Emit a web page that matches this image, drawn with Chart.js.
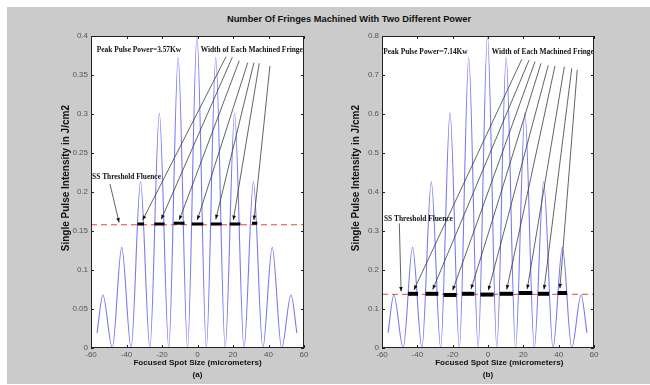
<!DOCTYPE html>
<html>
<head>
<meta charset="utf-8">
<script src="https://cdn.jsdelivr.net/npm/chart.js@4.4.0/dist/chart.umd.min.js"></script>
<style>
  body { margin: 0; width: 650px; height: 385px; overflow: hidden; position: relative; background: #fff; }
  #fig { position: absolute; left: 7px; top: 7px; right: 0; bottom: 1px; background: #cbcbcb; }
  #title { position: absolute; left: 100px; width: 498px; top: 14px; line-height: 12px; text-align: center;
           font: bold 9.3px "Liberation Sans", Arial, sans-serif; color: #111; }
  canvas { position: absolute; top: 0; }
</style>
</head>
<body>
<div id="fig"></div>
<div id="title">Number Of Fringes Machined With Two Different Power</div>
<canvas id="chartA" width="325" height="385" style="left:0"></canvas>
<canvas id="chartB" width="325" height="385" style="left:325px"></canvas>
<script>
// values
const spotSize = [-56.6, -53.3, -48.0, -42.7, -37.4, -32.1, -26.8, -21.5, -16.2, -10.9, -5.6, -0.3,
                  5.0, 10.3, 15.6, 20.9, 26.2, 31.5, 36.8, 42.1, 47.4, 52.7, 56.0];
const intensityA = [0.019, 0.068, 0, 0.129, 0, 0.213, 0, 0.301, 0, 0.372, 0, 0.400,
                    0, 0.372, 0, 0.301, 0, 0.213, 0, 0.129, 0, 0.068, 0.019];
const intensityB = [0.039, 0.136, 0, 0.258, 0, 0.426, 0, 0.603, 0, 0.745, 0, 0.800,
                    0, 0.745, 0, 0.603, 0, 0.426, 0, 0.258, 0, 0.136, 0.039];

const thresholdA = 0.158;
const thresholdB = 0.1377;

const fringeBarsA = [[-33.8, -30.1], [-24.3, -18.6], [-13.4, -7.3], [-3.2, 3.3], [7.5, 13.6], [18.1, 24.2], [30.7, 33.7]];
const barLevelsA = [0.159, 0.159, 0.160, 0.159, 0.159, 0.159, 0.160];
const fringeBarsB = [[-45.3, -39.6], [-35.3, -28.1], [-25.1, -17.9], [-14.7, -7.7], [-4.3, 3.2],
                     [6.6, 14.2], [17.4, 25.1], [28.3, 34.6], [39.4, 44.7]];
const barLevelsB = [0.139, 0.139, 0.136, 0.139, 0.137, 0.139, 0.141, 0.139, 0.141];

const arrowTailsA = [[16.1, 0.3735], [19.6, 0.3727], [23.5, 0.3683], [28.3, 0.3658], [31.8, 0.3658],
                     [34.8, 0.365], [40.8, 0.3615], [-49.3, 0.2103]];
const arrowTipsA = [[-30.9, 0.164], [-20.4, 0.165], [-10.3, 0.164], [-0.1, 0.164], [10.3, 0.165],
                    [20.2, 0.164], [31.8, 0.164], [-44.2, 0.161]];
const arrowTailsB = [[19.1, 0.740], [23.2, 0.738], [26.6, 0.734], [30.0, 0.730], [34.1, 0.725],
                     [37.9, 0.723], [43.2, 0.721], [47.4, 0.717], [50.5, 0.713], [-50.2, 0.3197]];
const arrowTipsB = [[-41.9, 0.149], [-31.3, 0.150], [-20.0, 0.148], [-9.6, 0.151], [0.2, 0.148],
                    [10.6, 0.150], [22.2, 0.151], [31.7, 0.150], [40.7, 0.153], [-49.2, 0.145]];

const notesA = [
  { text: "Peak Pulse Power=3.57Kw", x: -56.8, y: 0.382 },
  { text: "Width of Each Machined Fringe", x: 1.8, y: 0.382 },
  { text: "SS Threshold Fluence", x: -59.4, y: 0.2196 }
];
const notesB = [
  { text: "Peak Pulse Power=7.14Kw", x: -59.3, y: 0.760 },
  { text: "Width of Each Machined Fringe", x: 2.1, y: 0.760 },
  { text: "SS Threshold Fluence", x: -58.9, y: 0.330 }
];

const xTickValues = [-60, -40, -20, 0, 20, 40, 60];
const yTickValuesA = [0, 0.05, 0.1, 0.15, 0.2, 0.25, 0.3, 0.35, 0.4];
const yTickValuesB = [0, 0.1, 0.2, 0.3, 0.4, 0.5, 0.6, 0.7, 0.8];

const SANS = '"Liberation Sans", Arial, sans-serif';
const SERIF = '"Liberation Serif", "Times New Roman", serif';

function pts(xs, ys) {
  return xs.map((x, i) => ({ x: x, y: ys[i] }));
}

function decor(notes, tails, tips) {
  return {
    id: "decor",
    beforeDraw(chart) {
      const { ctx, chartArea: a } = chart;
      ctx.save();
      ctx.fillStyle = "#fff";
      ctx.fillRect(a.left, a.top, a.right - a.left, a.bottom - a.top);
      ctx.restore();
    },
    afterDatasetsDraw(chart) {
      const { ctx, chartArea: a } = chart;
      const sx = chart.scales.x, sy = chart.scales.y;
      ctx.save();
      // arrow heads
      ctx.fillStyle = "#111";
      tips.forEach((t, i) => {
        const x0 = sx.getPixelForValue(tails[i][0]), y0 = sy.getPixelForValue(tails[i][1]);
        const x1 = sx.getPixelForValue(t[0]), y1 = sy.getPixelForValue(t[1]);
        const ang = Math.atan2(y1 - y0, x1 - x0);
        const c = Math.cos(ang), s = Math.sin(ang);
        ctx.beginPath();
        ctx.moveTo(x1, y1);
        ctx.lineTo(x1 - 4.5 * c + 1.8 * s, y1 - 4.5 * s - 1.8 * c);
        ctx.lineTo(x1 - 4.5 * c - 1.8 * s, y1 - 4.5 * s + 1.8 * c);
        ctx.closePath();
        ctx.fill();
      });
      // box and inward ticks
      ctx.strokeStyle = "#222";
      ctx.lineWidth = 1;
      ctx.strokeRect(a.left + 0.5, a.top + 0.5, a.right - a.left - 1, a.bottom - a.top - 1);
      ctx.beginPath();
      sx.ticks.forEach(t => {
        const p = Math.round(sx.getPixelForValue(t.value)) + 0.5;
        ctx.moveTo(p, a.bottom); ctx.lineTo(p, a.bottom - 3);
        ctx.moveTo(p, a.top); ctx.lineTo(p, a.top + 3);
      });
      sy.ticks.forEach(t => {
        const p = Math.round(sy.getPixelForValue(t.value)) + 0.5;
        ctx.moveTo(a.left, p); ctx.lineTo(a.left + 3, p);
        ctx.moveTo(a.right, p); ctx.lineTo(a.right - 3, p);
      });
      ctx.stroke();
      // annotations
      ctx.fillStyle = "#111";
      ctx.font = "bold 7.4px " + SERIF;
      ctx.textAlign = "left";
      ctx.textBaseline = "middle";
      notes.forEach(n => ctx.fillText(n.text, sx.getPixelForValue(n.x), sy.getPixelForValue(n.y)));
      ctx.restore();
    }
  };
}

function buildChart(id, cfg) {
  const datasets = [];
  datasets.push({
    data: pts(spotSize, cfg.values), borderColor: "#7a7af0", borderWidth: 1.1,
    cubicInterpolationMode: "monotone", order: 4
  });
  datasets.push({
    data: [{ x: -60, y: cfg.threshold }, { x: 60, y: cfg.threshold }],
    borderColor: "#e4473f", borderWidth: 1, borderDash: [6, 4], order: 3
  });
  cfg.bars.forEach((b, i) => datasets.push({
    data: [{ x: b[0], y: cfg.levels[i] }, { x: b[1], y: cfg.levels[i] }],
    borderColor: "#000", borderWidth: cfg.barWidth, borderCapStyle: "butt", order: 2
  }));
  cfg.tails.forEach((t, i) => datasets.push({
    data: [{ x: t[0], y: t[1] }, { x: cfg.tips[i][0], y: cfg.tips[i][1] }],
    borderColor: "#3c3c3c", borderWidth: 0.8, order: 1
  }));
  datasets.forEach(d => { d.showLine = true; d.pointRadius = 0; });

  return new Chart(document.getElementById(id), {
    type: "scatter",
    data: { datasets: datasets },
    options: {
      responsive: false,
      animation: false,
      events: [],
      layout: { padding: { left: cfg.padLeft, top: 36, right: cfg.padRight, bottom: 0 } },
      plugins: { legend: { display: false }, tooltip: { enabled: false } },
      scales: {
        x: {
          type: "linear", min: -60, max: 60,
          afterBuildTicks: s => { s.ticks = xTickValues.map(v => ({ value: v })); },
          afterFit: s => { s.height = 37; },
          grid: { display: false, drawTicks: false },
          border: { display: false },
          ticks: { color: "#555", padding: 2, font: { family: SANS, size: 8 }, callback: v => String(v) },
          title: {
            display: true, text: cfg.xTitle, color: "#111",
            font: { family: SANS, size: 8.1, weight: "bold", lineHeight: 1.48 },
            padding: { top: 0, bottom: 4 }
          }
        },
        y: {
          type: "linear", min: 0, max: cfg.yMax,
          afterBuildTicks: s => { s.ticks = cfg.yTicks.map(v => ({ value: v })); },
          afterFit: s => { s.width = cfg.axisWidth; },
          grid: { display: false, drawTicks: false },
          border: { display: false },
          ticks: { color: "#555", padding: 3, font: { family: SANS, size: 8 }, callback: v => String(v) },
          title: {
            display: true, text: " ".repeat(10) + "Single Pulse Intensity in J/cm2", color: "#111",
            font: { family: SANS, size: 10, weight: "bold" },
            padding: { top: cfg.titlePad, bottom: 0 }
          }
        }
      }
    },
    plugins: [decor(cfg.notes, cfg.tails, cfg.tips)]
  });
}

buildChart("chartA", {
  values: intensityA, threshold: thresholdA, bars: fringeBarsA, levels: barLevelsA, barWidth: 3,
  tails: arrowTailsA, tips: arrowTipsA, notes: notesA, yMax: 0.4, yTicks: yTickValuesA,
  padLeft: 55, axisWidth: 36, padRight: 21, titlePad: 5,
  xTitle: ["Focused Spot Size (micrometers)", "(a)"]
});

buildChart("chartB", {
  values: intensityB, threshold: thresholdB, bars: fringeBarsB, levels: barLevelsB, barWidth: 4,
  tails: arrowTailsB, tips: arrowTipsB, notes: notesB, yMax: 0.8, yTicks: yTickValuesB,
  padLeft: 21, axisWidth: 36, padRight: 56, titlePad: 4.7,
  xTitle: [" ".repeat(10) + "Focused Spot Size (micrometers)", "(b)"]
});
</script>
</body>
</html>
